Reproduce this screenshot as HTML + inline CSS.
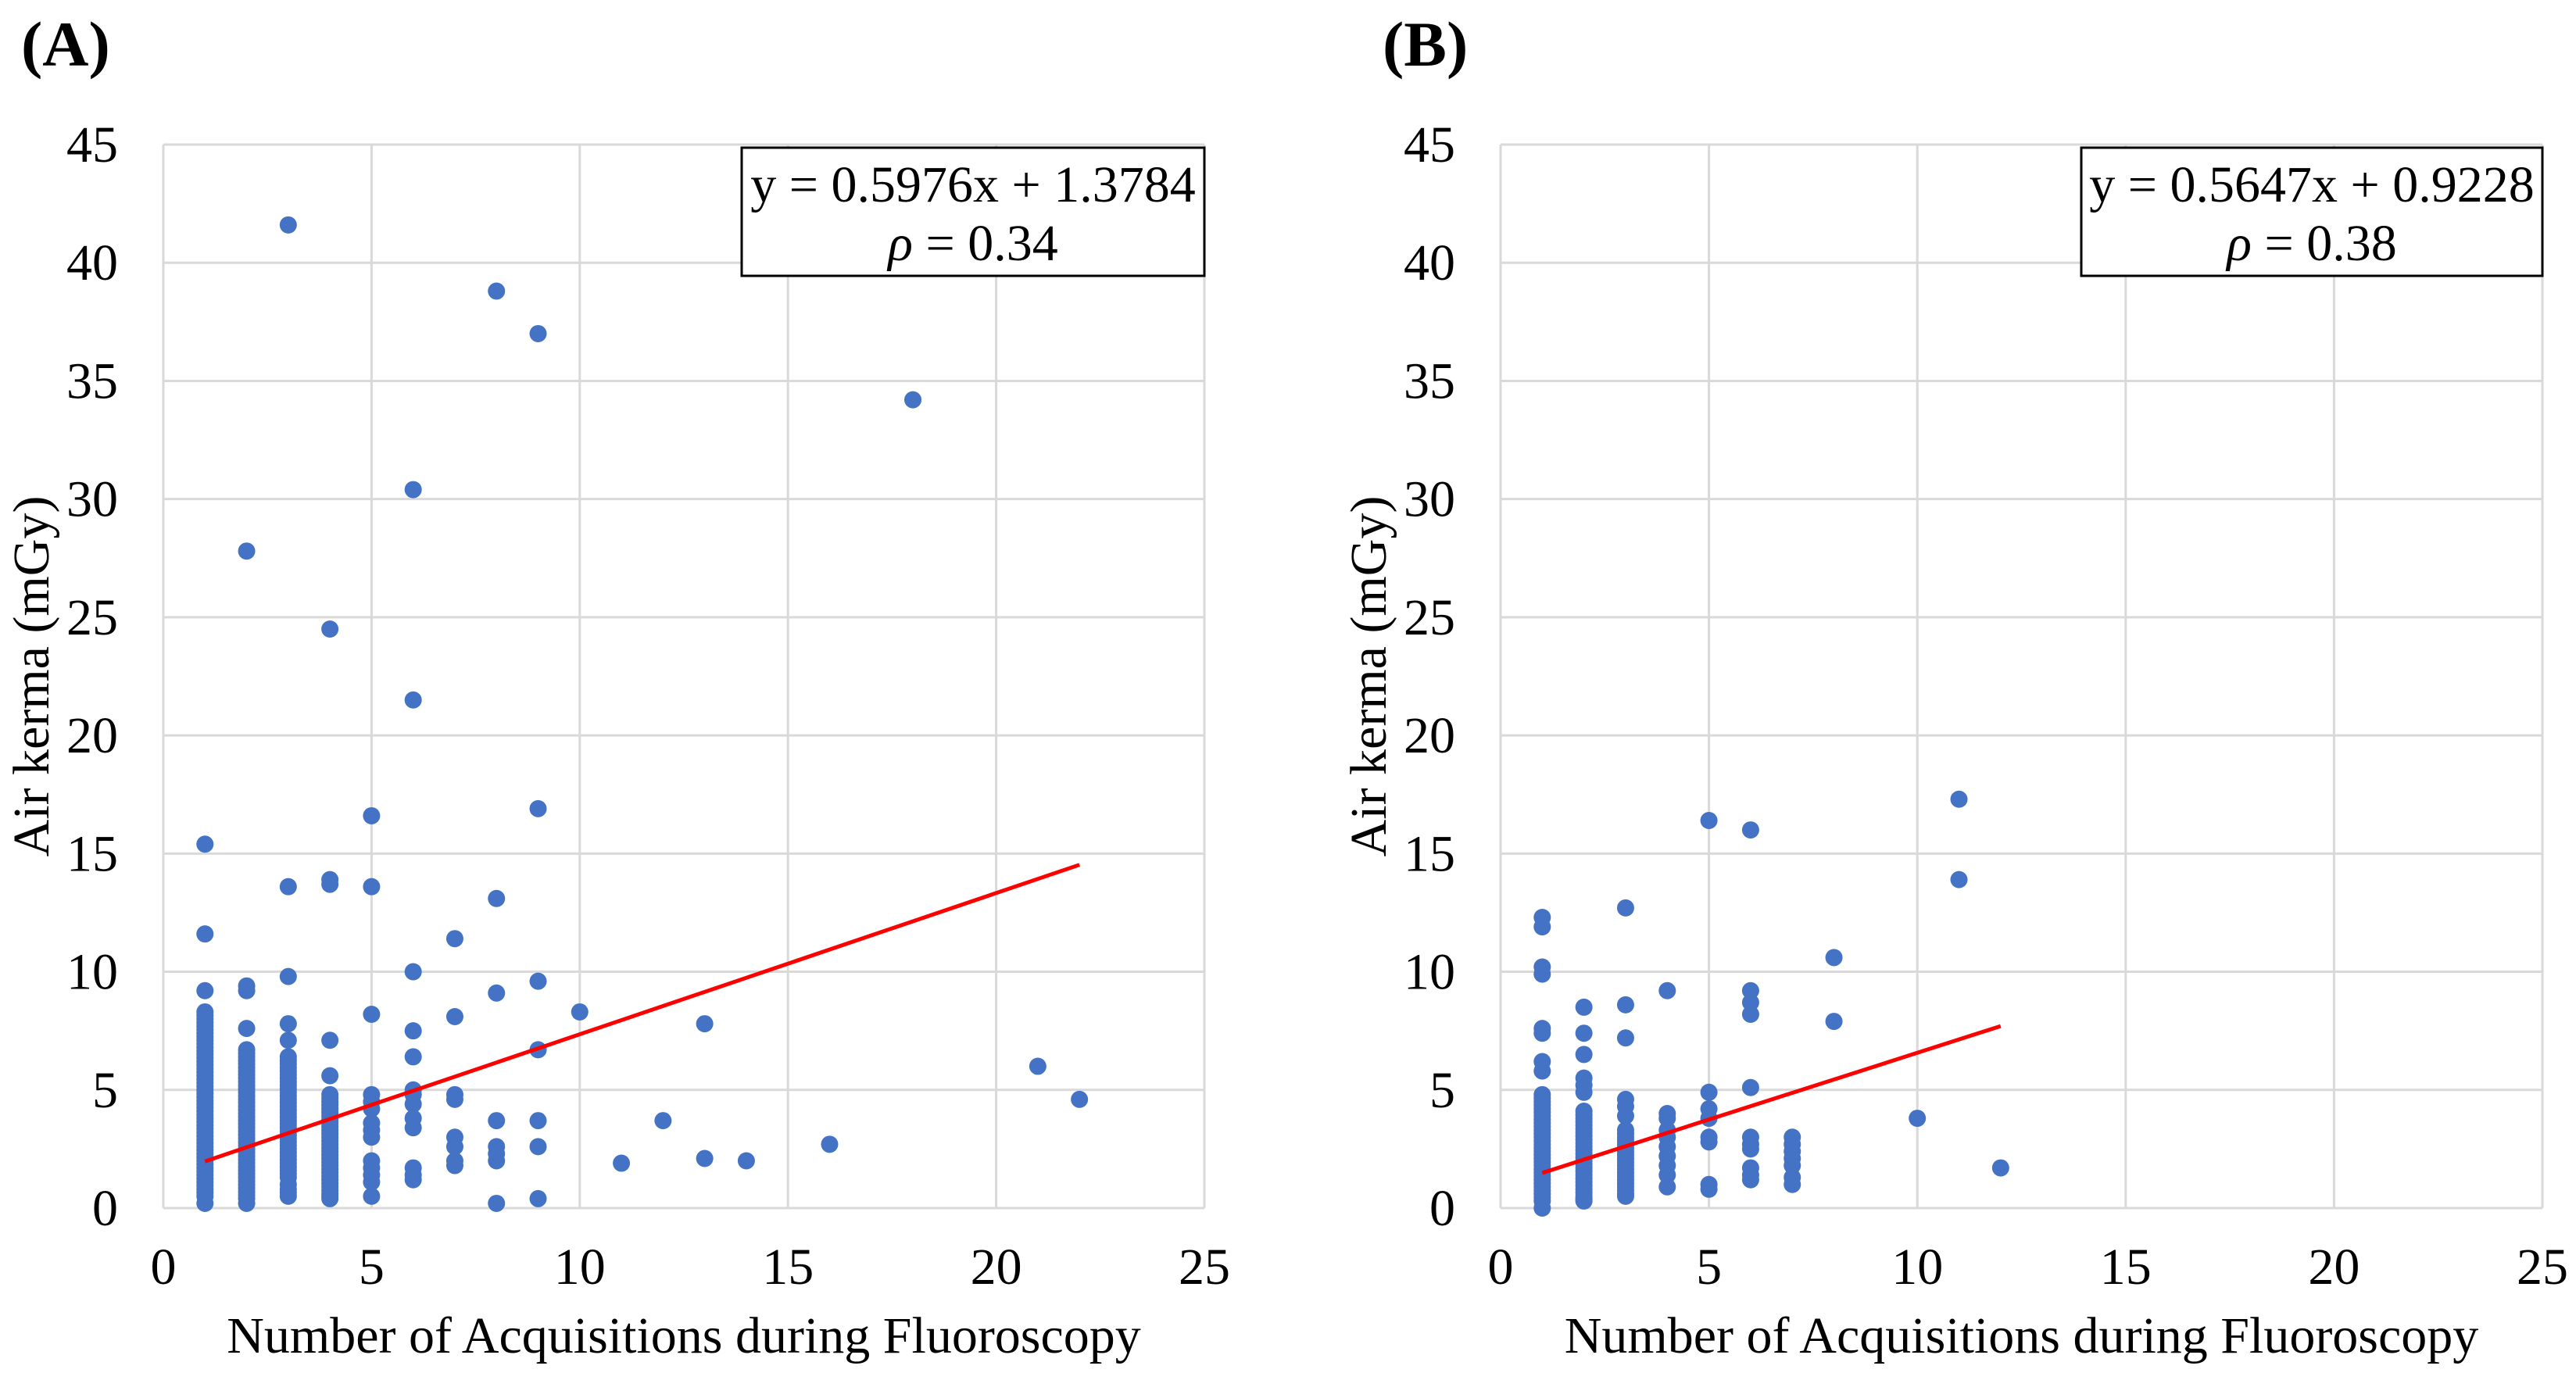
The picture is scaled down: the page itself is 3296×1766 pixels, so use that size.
<!DOCTYPE html>
<html><head><meta charset="utf-8"><style>
html,body{margin:0;padding:0;background:#fff;}
svg{display:block;}
svg text{font-family:"Liberation Serif","Times New Roman",serif;}
</style></head><body>
<svg id="chart" width="3296" height="1766" viewBox="0 0 3296 1766" font-family="Liberation Serif, serif">
<text x="27" y="84" font-size="82" font-weight="bold" font-family="Liberation Serif, serif">(A)</text>
<text x="1769" y="84" font-size="82" font-weight="bold" font-family="Liberation Serif, serif">(B)</text>
</svg>
<script>
const xTicks = [0,5,10,15,20,25];
const yTicks = [0,5,10,15,20,25,30,35,40,45];
const aX1 = [1,1,1,1,1,1,1,1,1,1,1,1,1,1,1,1,1,1,1,1,1,1,1,1,1,1,1,1,1,1,1,1,1,1,1,1,1,1,1,1,1,1,1,1,1,1,1,1,1,1,1,1,1,1,1,1,1];
const aY1 = [15.4,11.6,9.2,8.3,8.15,8.0,7.85,7.7,7.55,7.4,7.25,7.1,6.95,6.8,6.65,6.5,6.35,6.2,6.05,5.9,5.75,5.6,5.45,5.3,5.15,5.0,4.85,4.7,4.55,4.4,4.25,4.1,3.95,3.8,3.65,3.5,3.35,3.2,3.05,2.9,2.75,2.6,2.45,2.3,2.15,2.0,1.85,1.7,1.55,1.4,1.25,1.1,0.95,0.8,0.65,0.5,0.2];
const aX2 = [2,2,2,2,2,2,2,2,2,2,2,2,2,2,2,2,2,2,2,2,2,2,2,2,2,2,2,2,2,2,2,2,2,2,2,2,2,2,2,2,2,2,2,2,2,2,2,2];
const aY2 = [27.8,9.4,9.2,7.6,6.7,6.55,6.4,6.25,6.1,5.95,5.8,5.65,5.5,5.35,5.2,5.05,4.9,4.75,4.6,4.45,4.3,4.15,4.0,3.85,3.7,3.55,3.4,3.25,3.1,2.95,2.8,2.65,2.5,2.35,2.2,2.05,1.9,1.75,1.6,1.45,1.3,1.15,1.0,0.85,0.7,0.55,0.4,0.2];
const aX3 = [3,3,3,3,3,3,3,3,3,3,3,3,3,3,3,3,3,3,3,3,3,3,3,3,3,3,3,3,3,3,3,3,3,3,3,3,3,3,3,3,3,3,3,3];
const aY3 = [41.6,13.6,9.8,7.8,7.1,6.4,6.25,6.1,5.95,5.8,5.65,5.5,5.35,5.2,5.05,4.9,4.75,4.6,4.45,4.3,4.15,4.0,3.85,3.7,3.55,3.4,3.25,3.1,2.95,2.8,2.65,2.5,2.35,2.2,2.05,1.9,1.75,1.6,1.45,1.3,1.0,0.8,0.65,0.5];
const aX4 = [4,4,4,4,4,4,4,4,4,4,4,4,4,4,4,4,4,4,4,4,4,4,4,4,4,4,4,4,4,4,4,4,4,4,4,4];
const aY4 = [24.5,13.9,13.7,7.1,5.6,4.8,4.65,4.5,4.35,4.2,4.05,3.9,3.75,3.6,3.45,3.3,3.15,3.0,2.85,2.7,2.55,2.4,2.25,2.1,1.95,1.8,1.65,1.5,1.35,1.2,1.05,0.9,0.75,0.6,0.5,0.4];
const aXo = [5,5,5,5,5,5,5,5,5,5,5,5,5,5, 6,6,6,6,6,6,6,6,6,6,6,6,6, 7,7,7,7,7,7,7,7, 8,8,8,8,8,8,8,8, 9,9,9,9,9,9,9, 10,11,12,13,13,14,16,18,21,22];
const aYo = [16.6,13.6,8.2,4.8,4.5,4.2,3.6,3.3,3.0,2.0,1.7,1.4,1.1,0.5, 30.4,21.5,10.0,7.5,6.4,5.0,4.8,4.4,3.8,3.4,1.7,1.4,1.2, 11.4,8.1,4.8,4.6,3.0,2.6,2.0,1.8, 38.8,13.1,9.1,3.7,2.6,2.3,2.0,0.2, 37.0,16.9,9.6,6.7,3.7,2.6,0.4, 8.3,1.9,3.7,7.8,2.1,2.0,2.7,34.2,6.0,4.6];
const bX1 = [1,1,1,1,1,1,1,1,1,1,1,1,1,1,1,1,1,1,1,1,1,1,1,1,1,1,1,1,1,1,1,1,1,1,1,1,1,1,1,1];
const bY1 = [12.3,11.9,10.2,9.9,7.6,7.4,6.2,5.8,4.8,4.65,4.5,4.35,4.2,4.05,3.9,3.75,3.6,3.45,3.3,3.15,3.0,2.85,2.7,2.55,2.4,2.25,2.1,1.95,1.8,1.65,1.5,1.35,1.2,1.05,0.9,0.75,0.6,0.45,0.3,0.0];
const bX2 = [2,2,2,2,2,2,2,2,2,2,2,2,2,2,2,2,2,2,2,2,2,2,2,2,2,2,2,2,2,2,2,2,2,2];
const bY2 = [8.5,7.4,6.5,5.5,5.2,4.9,4.1,3.95,3.8,3.65,3.5,3.35,3.2,3.05,2.9,2.75,2.6,2.45,2.3,2.15,2.0,1.85,1.7,1.55,1.4,1.25,1.1,0.95,0.8,0.65,0.5,0.4,0.3,0.35];
const bX3 = [3,3,3,3,3,3,3,3,3,3,3,3,3,3,3,3,3,3,3,3,3,3,3,3,3,3];
const bY3 = [12.7,8.6,7.2,4.6,4.3,3.9,3.3,3.15,3.0,2.85,2.7,2.55,2.4,2.25,2.1,1.95,1.8,1.65,1.5,1.35,1.2,1.05,0.9,0.75,0.6,0.5];
const bXo = [4,4,4,4,4,4,4,4,4,4, 5,5,5,5,5,5,5,5, 6,6,6,6,6,6,6,6,6,6,6, 7,7,7,7,7,7,7, 8,8,10,11,11,12];
const bYo = [9.2,4.0,3.8,3.3,3.0,2.6,2.2,1.8,1.4,0.9, 16.4,4.9,4.2,3.8,3.0,2.8,1.0,0.8, 16.0,9.2,8.7,8.2,5.1,3.0,2.7,2.5,1.7,1.4,1.2, 3.0,2.7,2.4,2.1,1.8,1.3,1.0, 10.6,7.9,3.8,17.3,13.9,1.7];
const aSlope = 0.5976, aIntercept = 1.3784, aRho = "0.34", aRange = [1,22];
const bSlope = 0.5647, bIntercept = 0.9228, bRho = "0.38", bRange = [1,12];

const NS = "http://www.w3.org/2000/svg";
const svg = document.getElementById('chart');
const FF = 'Liberation Serif, serif';
function mk(tag, attrs, parent){ const e=document.createElementNS(NS,tag); for(const k in attrs) e.setAttribute(k,attrs[k]); (parent||svg).appendChild(e); return e; }

function drawPanel(p, xs, ys, slope, intercept, rho, range, tag){
  const g = mk('g',{});
  
  
  const sx = v => p.x0 + (v-0)/25*(p.x1-p.x0);
  const sy = v => p.y0 - (v-0)/45*(p.y0-p.y1);
  yTicks.forEach(t=>{
    const l = mk('line',{x1:p.x0,x2:p.x1,y1:sy(t),y2:sy(t),stroke:'#d9d9d9','stroke-width':3},g);
    
    
    const tx = mk('text',{x:p.x0-58,y:sy(t)+22,'font-size':66,'font-family':FF,'text-anchor':'end',fill:'#000'},g);
    tx.textContent = t;
    
    
  });
  xTicks.forEach(t=>{
    const l = mk('line',{x1:sx(t),x2:sx(t),y1:p.y1,y2:p.y0,stroke:'#d9d9d9','stroke-width':3},g);
    
    
    const tx = mk('text',{x:sx(t),y:p.y0+97,'font-size':66,'font-family':FF,'text-anchor':'middle',fill:'#000'},g);
    tx.textContent = t;
    
    
  });
  xs.forEach((arr,i)=>{
    arr.forEach((xv,j)=>{
      const c = mk('circle',{cx:sx(xv),cy:sy(ys[i][j]),r:11,fill:'#4472c4'},g);
      
      
    });
  });
  const tl = mk('line',{x1:sx(range[0]),y1:sy(slope*range[0]+intercept),x2:sx(range[1]),y2:sy(slope*range[1]+intercept),stroke:'#ff0000','stroke-width':5},g);
  
  
  const yt = mk('text',{transform:`translate(${p.ytx},${(p.y0+p.y1)/2}) rotate(-90)`,'font-size':66,'font-family':FF,'text-anchor':'middle',fill:'#000'},g);
  yt.textContent = 'Air kerma (mGy)';
  
  
  const xt = mk('text',{x:(p.x0+p.x1)/2,y:1731,'font-size':66,'font-family':FF,'text-anchor':'middle',fill:'#000'},g);
  xt.textContent = 'Number of Acquisitions during Fluoroscopy';
  
  
  const box = mk('rect',{x:p.bx,y:189,width:p.x1-p.bx,height:164,fill:'#fff',stroke:'#000','stroke-width':3},g);
  
  
  const cx = (p.bx+p.x1)/2;
  const e1 = mk('text',{x:cx,y:258,'font-size':66,'font-family':FF,'text-anchor':'middle',fill:'#000'},g);
  e1.textContent = `y = ${slope.toFixed(4)}x + ${intercept.toFixed(4)}`;
  
  
  const e2 = mk('text',{x:cx,y:333,'font-size':66,'font-family':FF,'text-anchor':'middle',fill:'#000'},g);
  e2.innerHTML = `<tspan font-style="italic">ρ</tspan> = ${rho}`;
  
  
}
drawPanel({x0:209,x1:1541,y0:1546,y1:185,ytx:62,bx:949}, [aX1,aX2,aX3,aX4,aXo],[aY1,aY2,aY3,aY4,aYo], aSlope,aIntercept,aRho,aRange,'a');
drawPanel({x0:1920,x1:3253,y0:1546,y1:185,ytx:1773,bx:2663}, [bX1,bX2,bX3,bXo],[bY1,bY2,bY3,bYo], bSlope,bIntercept,bRho,bRange,'b');
</script>
</body></html>
